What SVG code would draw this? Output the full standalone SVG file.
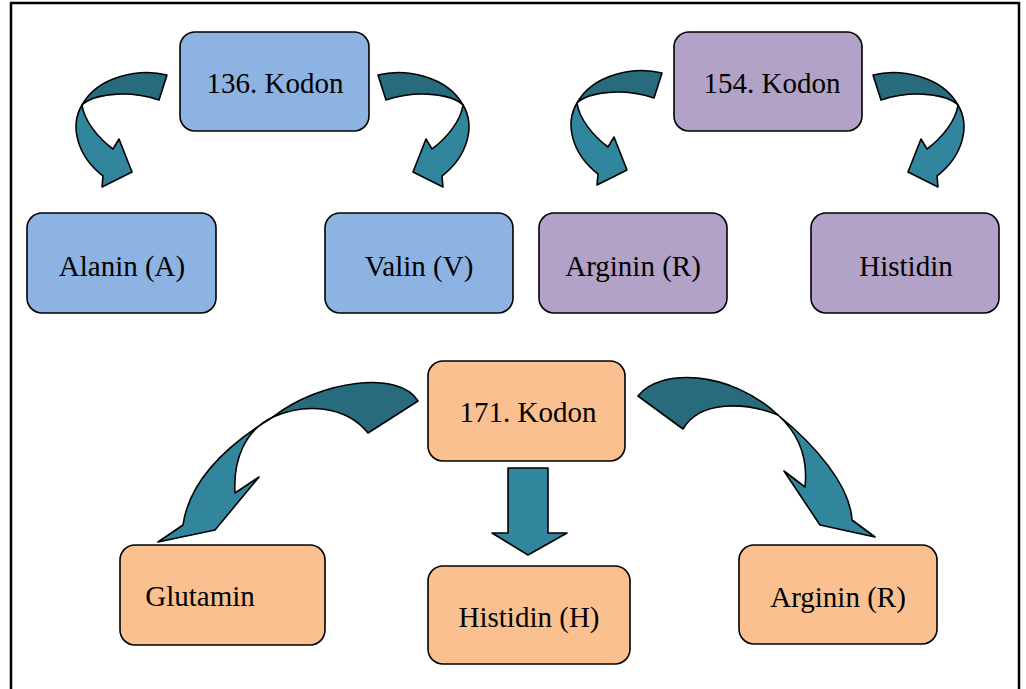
<svg xmlns="http://www.w3.org/2000/svg" width="1026" height="689" viewBox="0 0 1026 689">
<style>
.box{stroke:#000;stroke-width:1.6}
.blue{fill:#8DB3E2}
.purple{fill:#B2A2C7}
.orange{fill:#FAC08F}
.lbl{font-family:"Liberation Serif","Times New Roman",serif;font-size:29px;fill:#000;text-anchor:middle}
.dk{fill:#276B7D;stroke:#000;stroke-width:1.6;stroke-linejoin:round}
.lt{fill:#31859C;stroke:#000;stroke-width:1.6;stroke-linejoin:round}
</style>
<defs>
<g id="curl">
<path class="dk" d="M167,75 C140,68 98,76 82,105 C92,95 125,89 159,100 Z"/>
<path class="lt" d="M82,105 C70,125 76,155 103,176 L102,187 L132,172 L119,139 L113,149 C97,137 84,120 82,105 Z"/>
</g>
</defs>
<rect x="11" y="3" width="1008" height="700" fill="#fff" stroke="#000" stroke-width="2.5"/>
<g id="connectors">
<use href="#curl"/>
<use href="#curl" transform="translate(545,0) scale(-1,1)"/>
<use href="#curl" transform="translate(495,-2)"/>
<use href="#curl" transform="translate(1040,0) scale(-1,1)"/>
<path class="dk" d="M418,401 C400,370 320,380 273,417 C305,403 345,405 368,433 Z"/>
<path class="lt" d="M273,417 C235,440 190,475 183,525 L158,542 L215,530 L259,477 L235,493 C233,460 245,430 273,417 Z"/>
<path class="dk" d="M638,396 C660,368 730,370 778,415 C745,402 700,400 683,429 Z"/>
<path class="lt" d="M778,415 C815,445 850,485 852,520 L875,537 L820,525 L784,471 L805,487 C808,460 800,435 778,415 Z"/>
<path class="lt" d="M508,468 H548 V533 H567 L528,555 L492,533 H508 Z"/>
</g>
<g id="k136"><rect class="box blue" x="180" y="32" width="189" height="99" rx="15"/><text class="lbl" x="275" y="93">136. Kodon</text></g>
<g id="k154"><rect class="box purple" x="674" y="32" width="188" height="99" rx="15"/><text class="lbl" x="772" y="93">154. Kodon</text></g>
<g id="alanin"><rect class="box blue" x="27" y="213" width="189" height="100" rx="15"/><text class="lbl" x="122" y="276">Alanin (A)</text></g>
<g id="valin"><rect class="box blue" x="325" y="213" width="188" height="100" rx="15"/><text class="lbl" x="419" y="276">Valin (V)</text></g>
<g id="argininP"><rect class="box purple" x="539" y="213" width="188" height="100" rx="15"/><text class="lbl" x="633" y="276">Arginin (R)</text></g>
<g id="histidinP"><rect class="box purple" x="811" y="213" width="188" height="100" rx="15"/><text class="lbl" x="906" y="276">Histidin</text></g>
<g id="k171"><rect class="box orange" x="428" y="361" width="197" height="100" rx="15"/><text class="lbl" x="528" y="422">171. Kodon</text></g>
<g id="glutamin"><rect class="box orange" x="120" y="545" width="205" height="100" rx="15"/><text class="lbl" x="200" y="606">Glutamin</text></g>
<g id="histidinH"><rect class="box orange" x="428" y="566" width="202" height="98" rx="15"/><text class="lbl" x="529" y="627">Histidin (H)</text></g>
<g id="argininO"><rect class="box orange" x="739" y="545" width="198" height="99" rx="15"/><text class="lbl" x="838" y="607">Arginin (R)</text></g>
</svg>
